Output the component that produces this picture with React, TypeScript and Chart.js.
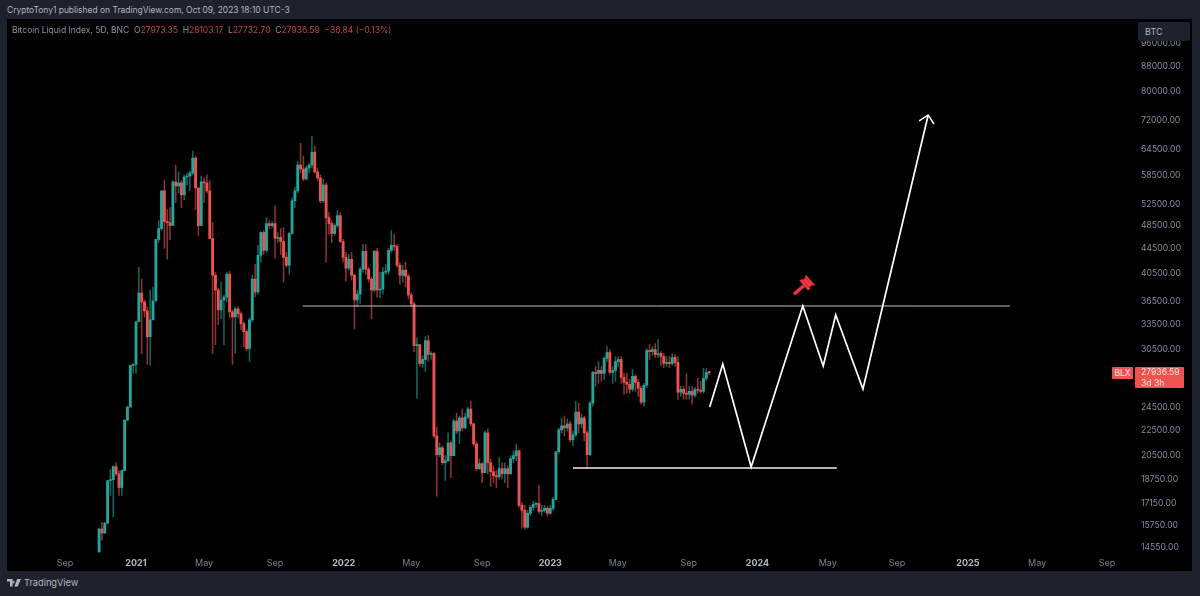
import { useEffect, useRef } from 'react'
import { Chart, registerables } from 'chart.js'

Chart.register(...registerables)

const UP = '#26a69a'
const DOWN = '#ef5350'
const UP_WICK = 'rgba(38,166,154,0.6)'
const DOWN_WICK = 'rgba(239,83,80,0.6)'
const FONT = 'Inter, "Noto Sans", sans-serif'

// days since 2021-01-01, one candle every 5 days
const firstDay = -65
const firstOpen = 14280

const closes = [
  15560, 15330, 15900, 18660, 18730, 19660, 19150, 18180, 19370, 23410, 24570, 28720, 28830, 33820, 37660, 36430,
  35230, 31990, 34070, 36560, 46040, 47960, 55220, 49220, 49030, 48490, 57100, 56240, 56890, 54410, 58170, 58390,
  59050, 62430, 55840, 48490, 57100, 56890, 55220, 46210, 40260, 38090, 35360, 36700, 37110, 40420, 35100, 34450,
  35490, 34840, 33570, 32590, 30590, 34070, 39680, 37810, 43380, 47250, 44190, 48850, 48490, 48850, 46210, 46380,
  45690, 43060, 41790, 47070, 53210, 55220, 60820, 59930, 57750, 60150, 60820, 63840, 59270, 57960, 53210, 56450,
  49950, 48850, 47070, 48490, 50330, 45690, 43060, 41330, 42740, 40260, 36700, 37520, 41170, 44030, 41170, 39680,
  38090, 44030, 38090, 38230, 40720, 40870, 44190, 45010, 44850, 41790, 40260, 41020, 40110, 37380, 36160, 30940,
  31050, 28930, 29370, 31510, 29920, 30030, 22060, 20560, 21100, 19950, 20100, 21490, 20480, 23320, 22470, 23590,
  22730, 23680, 24390, 23070, 21410, 19510, 19880, 19220, 22310, 19950, 19290, 19000, 18930, 19510, 19150, 19510,
  19150, 20250, 20480, 20860, 17010, 16690, 15670, 16510, 16880, 17070, 17130, 16630, 16690, 16820, 16510, 16820,
  17390, 20790, 22560, 22900, 22730, 23070, 21740, 22150, 24120, 23070, 23590, 22310, 20560, 24940, 27980, 27870,
  28190, 27870, 29480, 30140, 27980, 28190, 29150, 29370, 27470, 26960, 26760, 26270, 27570, 26960, 26370, 25030,
  26660, 30370, 30250, 30480, 29920, 30030, 29700, 28930, 29040, 28930, 29590, 29040, 25980, 26270, 25880, 25780,
  26070, 25690, 26270, 26170, 26070, 27360, 27973.35, 27936.59,
]

const highs = [
  15610, 15960, 15960, 18660, 19440, 19730, 19950, 19370, 19440, 23410, 24660, 28720, 28930, 33820, 41480, 39680,
  36700, 35760, 38090, 38520, 46040, 49400, 55220, 57530, 51470, 51850, 57320, 60820, 59270, 57320, 58610, 59050,
  59490, 64080, 62900, 55840, 58390, 57960, 58610, 57320, 49030, 40720, 38380, 39240, 37380, 40720, 40870, 35360,
  35760, 35760, 35100, 33820, 32830, 34320, 40260, 41950, 45010, 47430, 47610, 49950, 49400, 49220, 52220, 47250,
  47960, 48130, 43860, 47250, 53810, 56030, 61740, 66010, 62900, 60590, 61280, 67740, 65270, 60150, 58610, 57750,
  56890, 50890, 49400, 48850, 51280, 50890, 46040, 43860, 43540, 43860, 40420, 38090, 41480, 45180, 45180, 41480,
  39970, 44190, 44520, 40720, 41480, 41950, 44520, 47610, 46890, 45180, 42260, 41790, 42260, 40420, 37660, 36430,
  31860, 31050, 29800, 31990, 32110, 30250, 30140, 22810, 21490, 21260, 20480, 22310, 21650, 23500, 24030, 23760,
  24390, 24030, 24570, 25120, 23150, 21650, 20250, 19950, 22470, 22640, 20250, 19730, 19370, 20330, 19950, 19950,
  19730, 20480, 20860, 21410, 20940, 17200, 17010, 16690, 17010, 17260, 17200, 18320, 17010, 17010, 16950, 17010,
  17520, 20790, 22730, 23590, 23760, 23500, 23320, 22470, 25120, 24940, 23940, 23760, 22470, 25120, 28090, 28610,
  29150, 28610, 29700, 30820, 30480, 28610, 29700, 29700, 29700, 27870, 27870, 27260, 28300, 27770, 27260, 26560,
  26860, 30590, 31050, 30820, 31170, 31630, 30250, 30030, 29700, 29700, 30030, 29920, 29700, 26560, 26560, 27870,
  26560, 26560, 26460, 27360, 27060, 28400, 28400, 28103.17,
]

const lows = [
  14280, 14930, 15330, 15900, 17650, 16270, 19010, 17650, 17650, 21980, 23320, 24570, 27870, 27870, 33820, 30030,
  34450, 28830, 28720, 34070, 43380, 45520, 47610, 44520, 42740, 46040, 48490, 52820, 54820, 51850, 53410, 56450,
  55220, 58610, 51470, 46710, 48490, 52820, 54820, 46210, 30030, 31050, 33450, 34190, 31050, 36430, 34320, 28830,
  30030, 34320, 32830, 30820, 30370, 29150, 33820, 37110, 37520, 42260, 43540, 43860, 47960, 48130, 42900, 45520,
  43540, 39240, 41480, 40420, 46890, 51850, 54820, 59050, 57320, 57530, 59050, 60150, 59050, 57320, 52820, 52820,
  42260, 46890, 45520, 46710, 48130, 45520, 42260, 39380, 41020, 39530, 32950, 35760, 36160, 40720, 40420, 39240,
  34190, 37810, 37110, 36970, 37520, 40420, 40420, 43860, 44190, 41480, 38950, 39240, 38520, 36840, 35760, 30250,
  25410, 28610, 28500, 28090, 29150, 29370, 21900, 17590, 20400, 19800, 18660, 20030, 18880, 20480, 22230, 21410,
  22470, 22640, 23500, 22900, 21260, 19370, 19440, 18520, 19220, 19150, 18250, 18520, 18180, 18800, 18800, 18520,
  18180, 19080, 19950, 20100, 16880, 15610, 15550, 15610, 16390, 16690, 16880, 16510, 16390, 16570, 16330, 16450,
  16690, 17390, 20640, 22310, 22060, 22470, 21570, 21260, 21980, 22310, 22730, 21650, 19510, 20480, 24660, 26560,
  26860, 27060, 27260, 29150, 27770, 26860, 27060, 28610, 26860, 25780, 25880, 25880, 26070, 26070, 25600, 24850,
  24660, 26460, 29370, 29810, 29590, 29590, 28720, 28500, 28610, 28500, 28720, 28610, 25310, 25600, 25310, 25310,
  25310, 24850, 25500, 25880, 25880, 25880, 27160, 27732.7,
]

// drawn projection, same day / price units as the candles
const pathDays = [1011, 1034, 1084, 1175, 1211, 1233, 1281, 1396]
const pathPrices = [24580, 28875, 19630, 35880, 28660, 34690, 26290, 73380]
const arrowDays = [1380, 1396, 1406]
const arrowPrices = [71740, 73380, 70930]
const resistanceDays = [294, 1540]
const resistancePrice = 35880
const supportDays = [770, 1235]
const supportPrice = 19560
const gavelDay = 1174
const gavelPrice = 38530

const xTickDays = [-125, 0, 120, 245, 366, 485, 610, 730, 849, 974, 1095, 1219, 1341, 1466, 1588, 1711]
const xTickLabels = ['Sep', '2021', 'May', 'Sep', '2022', 'May', 'Sep', '2023', 'May', 'Sep', '2024', 'May', 'Sep', '2025', 'May', 'Sep']
const yTicks = [14550, 15750, 17150, 18750, 20500, 22500, 24500, 30500, 33500, 36500, 40500, 44500, 48500, 52500, 58500, 64500, 72000, 80000, 88000, 96000]

function makeGavel() {
  const c = document.createElement('canvas')
  c.width = 28
  c.height = 28
  const g = c.getContext('2d')!
  g.translate(14, 14)
  g.rotate(-Math.PI / 4.4)
  g.fillStyle = '#f23645'
  g.fillRect(-11, -1.7, 13, 3.4)
  g.fillRect(2, -6.5, 3, 13)
  g.fillRect(5, -5, 4, 10)
  g.fillRect(9, -6.5, 2, 13)
  return c
}

function CandleChart() {
  const canvasRef = useRef<HTMLCanvasElement>(null)

  useEffect(() => {
    if (!canvasRef.current) return
    const opens = closes.map((_, i) => (i === 0 ? firstOpen : closes[i - 1]))
    const days = closes.map((_, i) => firstDay + i * 5)
    const isUp = closes.map((c, i) => c >= opens[i])

    const chart = new Chart(canvasRef.current, {
      type: 'bar',
      data: {
        datasets: [
          {
            type: 'line',
            data: [{ x: gavelDay, y: gavelPrice }],
            showLine: false,
            pointStyle: makeGavel(),
            order: 0,
          },
          {
            type: 'line',
            data: pathDays.map((x, i) => ({ x, y: pathPrices[i] })),
            borderColor: '#ffffff',
            borderWidth: 1.7,
            pointRadius: 0,
            tension: 0,
            order: 1,
          },
          {
            type: 'line',
            data: arrowDays.map((x, i) => ({ x, y: arrowPrices[i] })),
            borderColor: '#ffffff',
            borderWidth: 1.5,
            pointRadius: 0,
            tension: 0,
            order: 1,
          },
          {
            type: 'line',
            data: resistanceDays.map((x) => ({ x, y: resistancePrice })),
            borderColor: '#c4c4c4',
            borderWidth: 1,
            pointRadius: 0,
            order: 2,
          },
          {
            type: 'line',
            data: supportDays.map((x) => ({ x, y: supportPrice })),
            borderColor: '#f0f0f0',
            borderWidth: 1.4,
            pointRadius: 0,
            order: 2,
          },
          {
            data: days.map((x, i) => ({ x, y: [opens[i], closes[i]] })),
            backgroundColor: isUp.map((u) => (u ? UP : DOWN)),
            barThickness: 2.2,
            minBarLength: 1,
            grouped: false,
            order: 3,
          },
          {
            data: days.map((x, i) => ({ x, y: [lows[i], highs[i]] })),
            backgroundColor: isUp.map((u) => (u ? UP_WICK : DOWN_WICK)),
            barThickness: 0.9,
            grouped: false,
            order: 4,
          },
        ],
      } as any,
      options: {
        responsive: false,
        animation: false,
        plugins: { legend: { display: false }, tooltip: { enabled: false } },
        layout: { padding: 0, autoPadding: false },
        scales: {
          x: {
            type: 'linear',
            offset: false,
            min: -227.3,
            max: 1760.4,
            grid: { display: false, drawTicks: false },
            border: { display: false },
            afterFit: (s: any) => {
              s.height = 18
              s.paddingLeft = 0
              s.paddingRight = 0
            },
            afterBuildTicks: (s: any) => { s.ticks = xTickDays.map((value) => ({ value })) },
            ticks: {
              autoSkip: false,
              maxRotation: 0,
              padding: 5,
              callback: (_v: any, i: number) => xTickLabels[i],
              color: (ctx: any) => (/^20/.test(xTickLabels[ctx.index]) ? '#b6b9c2' : '#7d808b'),
              font: (ctx: any) => ({
                family: FONT,
                size: 9,
                weight: /^20/.test(xTickLabels[ctx.index]) ? 'bold' : 'normal',
              }),
            },
          } as any,
          y: {
            type: 'logarithmic',
            position: 'right',
            min: 14227,
            max: 105100,
            beginAtZero: false,
            grid: { display: false, drawTicks: false },
            border: { display: false },
            afterFit: (s: any) => {
              s.width = 57
              s.paddingTop = 0
              s.paddingBottom = 0
            },
            afterBuildTicks: (s: any) => { s.ticks = yTicks.map((value) => ({ value })) },
            ticks: {
              autoSkip: false,
              padding: 6,
              callback: (v: any) => Number(v).toFixed(2),
              color: '#8a8d97',
              font: { family: FONT, size: 8.6 },
            },
          } as any,
        },
      },
    })

    return () => { chart.destroy() }
  }, [])

  return (
    <canvas
      ref={canvasRef}
      width={1185}
      height={552}
      style={{ position: 'absolute', left: 7, top: 19, width: 1185, height: 552, background: '#000' }}
    />
  )
}

const redText = { color: '#c5443f' }

export default function App() {
  useEffect(() => {
    document.body.style.margin = '0'
  }, [])

  return (
    <div style={{ position: 'fixed', left: 0, top: 0, width: 1200, height: 596, background: '#1e222d', overflow: 'hidden', fontFamily: FONT }}>
      <CandleChart />

      <div style={{ position: 'absolute', left: 7, top: 5, fontSize: 8.45, color: '#b2b5be', whiteSpace: 'nowrap' }}>
        CryptoTony1 published on TradingView.com, Oct 09, 2023 18:10 UTC-3
      </div>

      <div style={{ position: 'absolute', left: 12, top: 25, fontSize: 8.5, color: '#8f929c', whiteSpace: 'pre' }}>
        Bitcoin Liquid Index, 5D, BNC{'  '}O<span style={redText}>27973.35</span>{'  '}H<span style={redText}>28103.17</span>{'  '}L<span style={redText}>27732.70</span>{'  '}C<span style={redText}>27936.59</span>{'  '}<span style={redText}>−36.84 (−0.13%)</span>
      </div>

      <div style={{ position: 'absolute', left: 1138, top: 22, width: 52, height: 19, boxSizing: 'border-box', paddingLeft: 7, lineHeight: '19px', background: '#1e222d', borderRadius: 3, fontSize: 9, color: '#b2b5be' }}>
        BTC
      </div>

      <div style={{ position: 'absolute', left: 1112, top: 367, width: 21, height: 12, lineHeight: '12px', textAlign: 'center', background: DOWN, borderRadius: 1, fontSize: 8.5, color: '#f7e6e6' }}>
        BLX
      </div>
      <div style={{ position: 'absolute', left: 1135, top: 367, width: 49, height: 21, boxSizing: 'border-box', paddingLeft: 6, background: DOWN, borderRadius: 1, fontSize: 8.6, lineHeight: '10.5px', color: '#f7e6e6' }}>
        27936.59
        <br />
        3d 3h
      </div>

      <svg style={{ position: 'absolute', left: 7, top: 579 }} width="14" height="8" viewBox="0 0 14 8">
        <path d="M0 0H5.6V7.4H3V2.6H0Z M6.4 1.9a1.2 1.2 0 1 0 .01 0Z M10.2 0H14L10.6 7.4H7.4Z" fill="#b2b5be" />
      </svg>
      <div style={{ position: 'absolute', left: 24, top: 577, fontSize: 9.2, color: '#b2b5be' }}>TradingView</div>
    </div>
  )
}
